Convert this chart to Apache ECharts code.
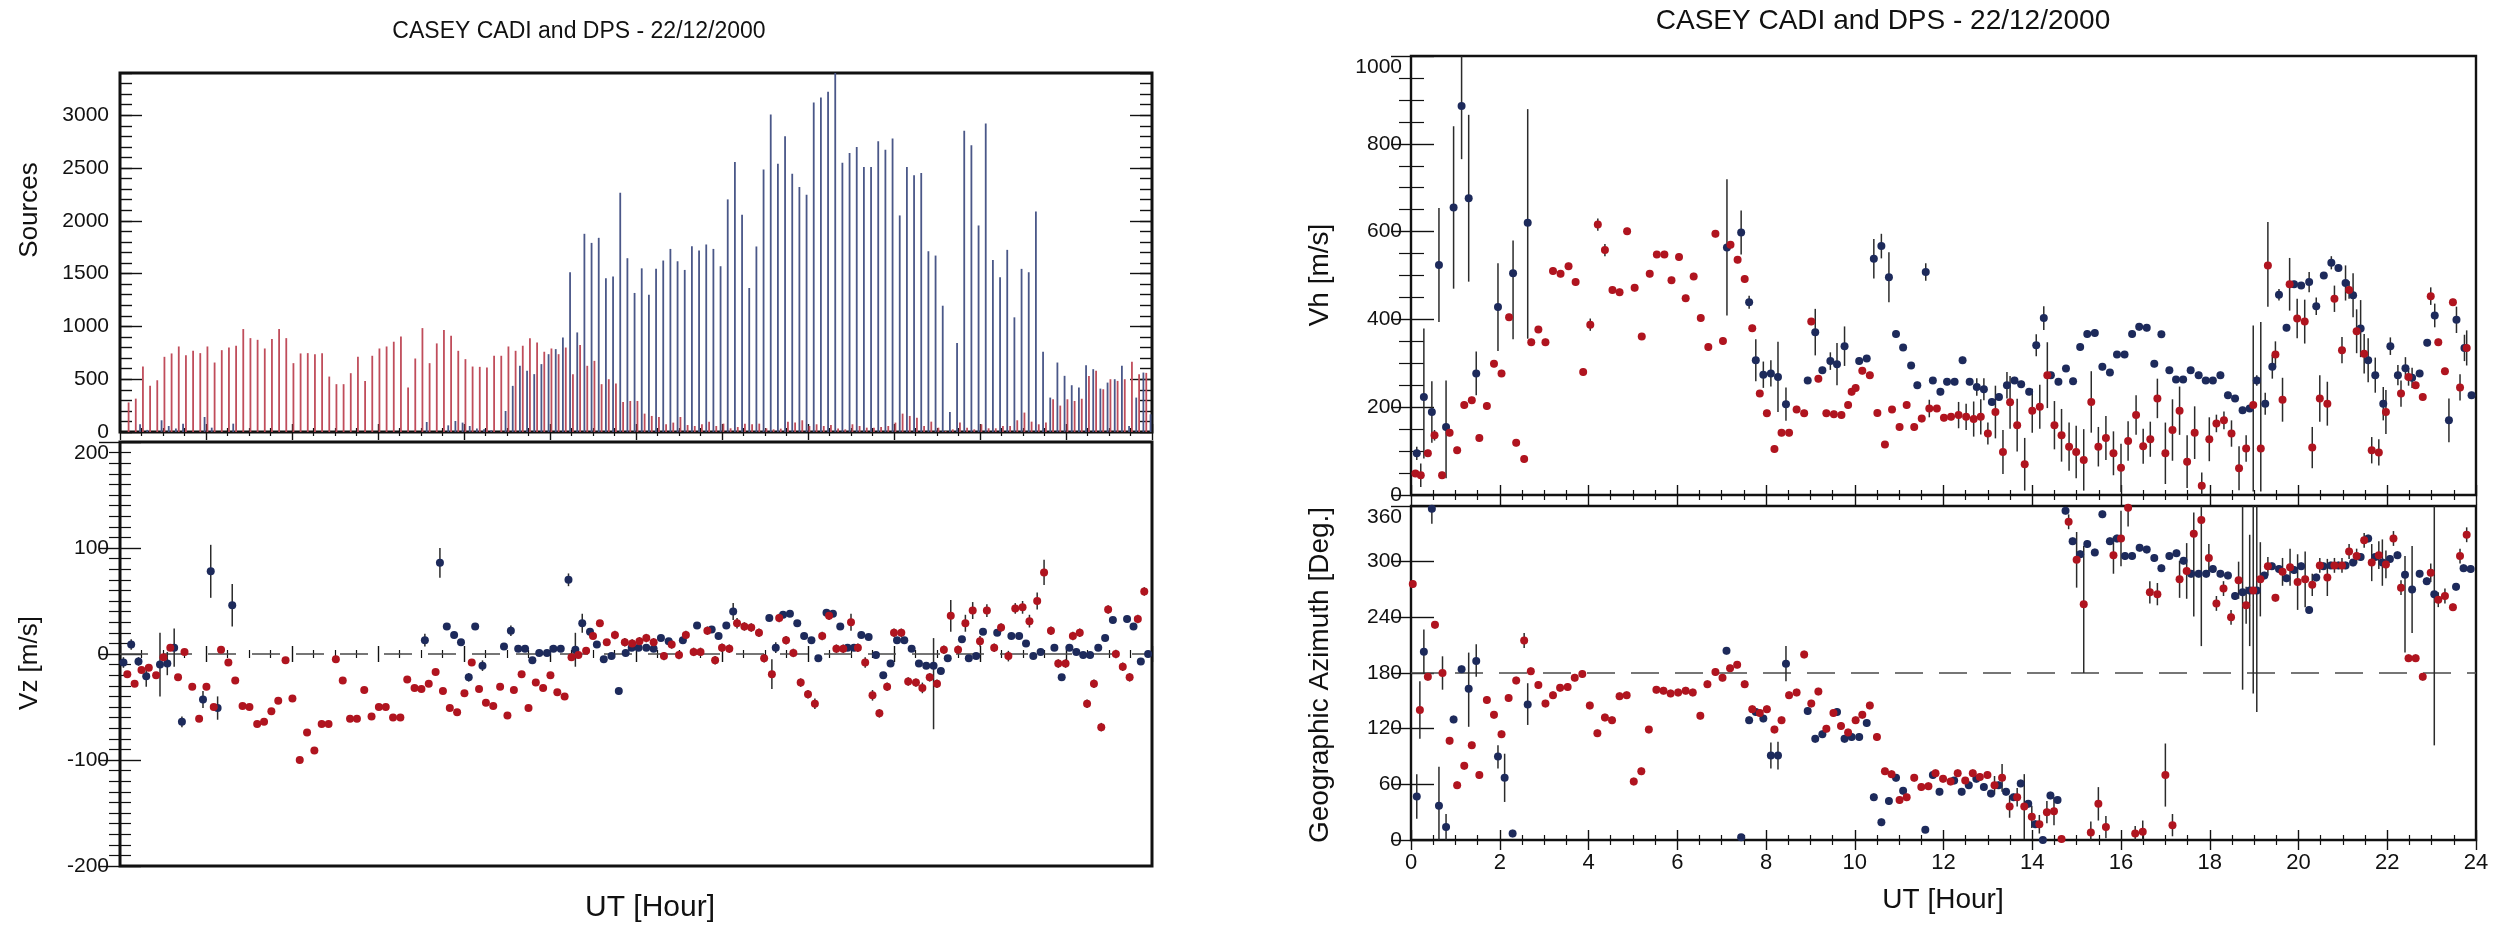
<!DOCTYPE html>
<html><head><meta charset="utf-8">
<script src="https://cdn.jsdelivr.net/npm/echarts/dist/echarts.min.js"></script>
<style>html,body{margin:0;padding:0;background:#fff}#c{width:2494px;height:929px}</style>
</head><body><div id="c"></div>
<script>
// ---------- DATA ----------
const titleText = 'CASEY CADI and DPS - 22/12/2000';
const srcStepHours = 1 / 6;      // 10-minute soundings
const cadiSrcStart = 0.2;        // UT hour of first CADI bar
const dpsSrcStart = 0.3;         // UT hour of first DPS bar

const cadiSources = [
 280,316,620,437,490,712,744,810,728,769, 747,810,658,775,800,817,975,889,873,791,
 880,975,889,652,744,747,737,747,525,453, 453,557,712,484,722,791,810,855,905,421,
 696,984,652,839,965,911,769,690,620,617, 611,722,722,810,769,817,889,848,760,791,
 737,800,548,823,627,674,453,500,459,285, 294,294,174,152,142,73,89,142,66,57,
 73,98,57,79,35,47,79,73,79,35, 25,32,98,89,111,57,73,57,66,32,
 25,73,57,41,41,47,57,89,174,152, 136,57,98,41,10,25,89,41,25,73,
 35,35,57,57,111,184,98,73,89,310, 250,310,294,315,530,579,405,500,484,500,
 665,548,560];
const dpsSources = [
 0,73,20,0,111,57,32,79,0,0, 142,41,0,0,79,0,0,0,0,0,
 0,0,0,0,0,0,0,0,0,0, 0,0,0,0,0,0,0,0,0,0,
 0,95,0,0,63,104,89,57,32,25, 16,0,199,437,627,579,548,643,737,785,
 896,1512,943,1877,1791,1839,1455,1472,2266,1646, 1317,1550,1301,1545,1624,1734,1617,1535,1760,1718,
 1776,1734,1570,2203,2557,2057,1364,1757,2485,3007, 2541,2801,2447,2320,2247,3121,3168,3222,3400,2551,
 2643,2700,2510,2510,2754,2674,2779,2051,2510,2431, 2453,1712,1671,1196,190,842,2852,2716,1956,2921,
 1630,1465,1725,1086,1545,1513,2089,760,326,658, 532,443,421,633,595,411,468,500,627,57,
 326,563,168];

// [UT hour, value, error] or [UT hour, value, errLow, errHigh]
const vzDps = [
 [0.08,-8,5],[0.26,9,5],[0.43,-7,4],[0.61,-21,10],[0.93,-10,30],[1.1,-9,11],[1.26,6,18],[1.44,-64,5],
 [1.93,-43,8],[2.11,78,25],[2.27,-51,11],[2.61,46,20],[7.09,13,6],[7.44,86,14],[7.6,26,3],[7.77,18,3],
 [7.93,11,3],[8.11,-22,4],[8.26,26,3],[8.43,-11,5],[8.93,7,3],[9.09,22,5],[9.26,5,3],[9.42,5,3],
 [9.59,-6,3],[9.75,1,3],[9.93,1,3],[10.08,5,3],[10.25,5,3],[10.43,70,6],[10.59,4,16],[10.75,29,9],
 [10.93,21,3],[11.09,9,3],[11.25,-5,3],[11.43,-2,3],[11.6,-35,3],[11.76,1,3],[11.9,6,3],[12.06,6,3],
 [12.24,6,3],[12.41,5,3],[12.58,15,3],[12.76,12,3],[13.09,13,3],[13.42,27,3],[13.76,23,3],[13.92,17,3],
 [14.1,27,3],[14.26,40,8],[15.1,34,3],[15.25,6,5],[15.42,37,3],[15.58,38,3],[15.75,29,3],[15.91,17,3],
 [16.08,13,3],[16.24,-4,3],[16.43,39,3],[16.58,38,3],[16.75,26,3],[16.92,6,3],[17.07,6,3],[17.24,18,3],
 [17.41,16,3],[17.58,-1,3],[17.75,-20,3],[17.92,-9,3],[18.07,13,3],[18.24,13,3],[18.41,5,3],[18.58,-9,3],
 [18.75,-11,3],[18.92,-11,60,26],[19.09,-16,3],[19.25,-4,3],[19.58,14,3],[19.74,-4,3],[19.91,-2,3],[20.07,21,3],
 [20.4,20,3],[20.73,17,3],[20.91,17,3],[21.07,10,3],[21.24,-2,3],[21.41,2,3],[21.73,6,3],[21.9,-22,3],
 [22.08,6,3],[22.24,2,3],[22.4,-1,3],[22.56,-1,3],[22.75,6,3],[22.91,15,3],[23.09,32,3],[23.42,33,3],
 [23.57,26,3],[23.74,-7,3],[23.91,0,3]];
const vzCadi = [
 [0.17,-19,0],[0.34,-28,0],[0.5,-15,0],[0.67,-13,0],[0.84,-20,0],[1.01,-3,0],[1.17,6,0],[1.35,-22,0],
 [1.5,2,0],[1.68,-31,0],[1.84,-61,0],[2.01,-31,0],[2.18,-50,0],[2.35,4,0],[2.52,-8,0],[2.68,-25,0],
 [2.85,-49,0],[3.01,-50,0],[3.19,-66,0],[3.35,-64,0],[3.52,-54,0],[3.68,-44,0],[3.85,-6,0],[4.01,-42,0],
 [4.18,-100,0],[4.35,-74,0],[4.52,-91,0],[4.69,-66,0],[4.85,-66,0],[5.02,-5,0],[5.18,-25,0],[5.35,-61,0],
 [5.51,-61,0],[5.68,-34,0],[5.85,-59,0],[6.02,-50,0],[6.18,-50,0],[6.35,-60,0],[6.52,-60,0],[6.68,-24,0],
 [6.85,-32,0],[7.01,-33,0],[7.18,-28,0],[7.34,-17,0],[7.51,-35,0],[7.67,-51,0],[7.84,-55,0],[8.01,-37,0],
 [8.18,-8,0],[8.35,-33,0],[8.51,-46,0],[8.68,-49,0],[8.84,-31,0],[9.01,-58,0],[9.16,-34,0],[9.34,-19,0],
 [9.5,-51,0],[9.67,-27,0],[9.84,-32,0],[10.01,-20,0],[10.17,-36,0],[10.34,-40,0],[10.5,-3,0],[10.66,-1,0],
 [10.84,3,0],[11.0,17,0],[11.16,29,0],[11.32,11,0],[11.51,18,4],[11.74,11,4],[11.91,10,4],[12.08,12,4],
 [12.24,15,4],[12.41,11,4],[12.65,-2,4],[12.83,9,4],[13.0,-1,4],[13.16,18,4],[13.34,2,4],[13.5,2,4],
 [13.66,22,4],[13.84,-6,4],[14.0,6,4],[14.17,5,4],[14.35,29,5],[14.52,26,4],[14.68,25,4],[14.86,20,4],
 [14.98,-4,4],[15.16,-19,14],[15.33,34,4],[15.49,13,4],[15.66,1,4],[15.83,-27,4],[16.0,-38,4],[16.16,-47,5],
 [16.33,17,4],[16.49,36,4],[16.66,5,4],[16.82,5,4],[17.0,30,8],[17.16,6,4],[17.33,-8,5],[17.5,-39,5],
 [17.66,-56,4],[17.84,-31,4],[18.0,20,4],[18.17,20,4],[18.33,-26,4],[18.51,-27,4],[18.66,-32,5],[18.83,-22,4],
 [19.0,-28,4],[19.16,4,4],[19.32,36,15],[19.49,4,4],[19.66,29,8],[19.83,41,8],[20.0,12,5],[20.16,41,6],
 [20.33,6,4],[20.49,25,4],[20.66,-2,5],[20.82,43,5],[20.99,44,6],[21.15,31,6],[21.33,50,8],[21.49,77,12],
 [21.65,22,4],[21.82,-9,4],[21.99,-9,4],[22.16,17,4],[22.32,20,4],[22.49,-47,4],[22.65,-28,4],[22.82,-69,4],
 [22.98,42,4],[23.16,0,4],[23.32,-12,4],[23.48,-22,4],[23.67,33,4],[23.82,59,4]];

const vhDps = [
 [0.13,95,15],[0.29,223,140,156],[0.47,189,70],[0.63,524,130],[0.79,155,117,106],[0.96,655,185],[1.14,886,121,114],[1.30,676,190],
 [1.47,277,50],[1.96,428,100],[2.30,505,150,75],[2.63,620,264,259],[7.12,564,155],[7.44,598,50],[7.62,439,15],[7.77,307,48],
 [7.94,274,30],[8.11,277,30],[8.27,269,80],[8.45,207,38],[8.94,261,8],[9.11,371,53],[9.27,284,8],[9.45,305,20],
 [9.60,298,48],[9.77,339,45],[10.1,305,8],[10.27,311,8],[10.43,538,45],[10.6,567,28],[10.77,496,57],[10.93,367,8],
 [11.09,336,8],[11.27,295,8],[11.41,250,8],[11.6,508,20],[11.76,261,8],[11.93,235,8],[12.08,258,8],[12.25,258,8],
 [12.43,307,8],[12.59,258,8],[12.75,246,20],[12.91,241,25],[13.09,212,8],[13.25,223,8],[13.43,250,30],[13.6,261,8],
 [13.75,252,8],[13.93,235,8],[14.09,341,25],[14.26,403,27],[14.42,273,8],[14.59,258,8],[14.76,288,8],[14.92,259,8],
 [15.08,337,8],[15.24,367,8],[15.41,369,8],[15.58,292,8],[15.75,279,8],[15.91,320,8],[16.08,320,8],[16.25,367,8],
 [16.41,383,8],[16.58,381,8],[16.75,299,8],[16.91,366,8],[17.09,284,8],[17.24,263,8],[17.4,263,8],[17.57,284,8],
 [17.75,273,8],[17.91,261,8],[18.07,261,8],[18.24,273,8],[18.41,227,8],[18.57,220,8],[18.74,193,8],[18.9,197,8],
 [19.06,261,12],[19.25,208,25],[19.41,292,27],[19.56,456,13],[19.73,381,8],[19.9,480,8],[20.06,477,8],[20.24,485,23],
 [20.4,430,20],[20.57,500,8],[20.74,529,15],[20.9,517,8],[21.06,483,40],[21.23,455,50],[21.4,379,65],[21.57,307,50],
 [21.73,273,40],[21.91,208,38],[22.07,339,20],[22.24,273,23],[22.41,289,25],[22.56,267,23],[22.73,277,8],[22.9,347,8],
 [23.07,409,27],[23.39,170,50],[23.56,399,30],[23.74,335,30],[23.9,227,8]];
const vhCadi = [
 [0.1,49,8],[0.22,45,27],[0.38,95,8],[0.53,136,12],[0.7,45,8],[0.87,142,8],[1.04,102,8],[1.2,205,8],
 [1.37,216,8],[1.54,130,8],[1.71,203,8],[1.87,299,8],[2.04,277,8],[2.21,405,8],[2.37,119,8],[2.55,82,8],
 [2.71,348,8],[2.87,377,8],[3.03,348,8],[3.2,510,8],[3.37,504,8],[3.55,521,8],[3.71,485,8],[3.88,280,8],
 [4.04,388,14],[4.21,616,14],[4.37,558,14],[4.54,467,8],[4.7,462,8],[4.87,601,8],[5.04,472,8],[5.2,361,8],
 [5.38,504,8],[5.54,548,8],[5.71,548,8],[5.87,489,8],[6.04,542,8],[6.19,448,8],[6.37,498,8],[6.53,403,8],
 [6.7,337,8],[6.86,595,8],[7.03,351,8],[7.2,570,8],[7.36,536,8],[7.52,492,8],[7.69,380,8],[7.86,231,8],
 [8.02,186,8],[8.19,105,8],[8.35,142,8],[8.52,142,8],[8.69,195,8],[8.86,186,8],[9.02,395,8],[9.18,265,8],
 [9.36,186,8],[9.53,184,8],[9.7,182,8],[9.85,205,8],[9.93,235,8],[10.02,244,8],[10.17,283,8],[10.34,273,8],
 [10.51,187,8],[10.68,115,8],[10.84,195,8],[11.01,155,8],[11.17,205,8],[11.34,155,8],[11.51,174,8],[11.68,197,20],
 [11.85,197,8],[12.01,176,8],[12.17,178,8],[12.34,182,30],[12.51,178,30],[12.68,173,40],[12.84,178,40],[13.0,140,25],
 [13.17,189,60],[13.34,98,50],[13.5,211,60],[13.66,159,60],[13.83,70,60],[14.0,192,50],[14.17,201,50],[14.34,273,75],
 [14.5,159,55],[14.66,136,60],[14.83,110,55],[14.99,98,60],[15.16,80,70],[15.33,212,70],[15.49,110,45],[15.66,130,50],
 [15.83,95,50],[16.0,62,55],[16.16,123,45],[16.34,182,45],[16.5,111,40],[16.66,127,40],[16.82,220,45],[17.0,95,70],
 [17.16,148,70],[17.32,192,55],[17.49,76,60],[17.66,142,60],[17.82,21,30],[17.99,127,50],[18.15,163,20],[18.32,170,20],
 [18.49,140,30],[18.66,61,50],[18.82,106,30],[18.98,205,197,181],[19.15,106,98,288],[19.31,523,94,99],[19.48,320,30],[19.64,217,50],
 [19.8,480,60],[19.97,402,45],[20.14,395,50],[20.31,108,47],[20.48,220,53],[20.65,208,50],[20.81,447,30],[20.98,330,30],
 [21.14,467,20],[21.31,373,50],[21.48,322,45],[21.65,102,30],[21.81,97,30],[21.97,189,50],[22.31,231,30],[22.48,269,20],
 [22.64,250,8],[22.8,223,8],[22.98,453,20],[23.15,348,8],[23.3,282,8],[23.48,439,8],[23.64,245,30],[23.79,335,40]];

const azDps = [
 [0.13,47,24],[0.29,203,24],[0.47,357,16,4],[0.63,37,37,42],[0.79,14,14],[0.96,130,4],[1.14,184,4],[1.3,163,41,39],
 [1.47,193,17,18],[1.96,90,13,12],[2.11,67,26],[2.29,7,4],[2.63,146,22,23],[7.11,204,4],[7.44,3,3],[7.62,129,4],
 [7.77,138,4],[7.94,131,4],[8.11,91,14],[8.27,91,15],[8.45,190,19],[8.94,139,4],[9.11,109,4],[9.27,114,4],
 [9.6,138,4],[9.77,109,4],[9.93,111,4],[10.1,111,4],[10.27,126,4],[10.43,46,4],[10.6,19,4],[10.77,42,4],
 [10.93,67,4],[11.09,53,4],[11.59,11,3],[11.76,70,4],[11.91,52,4],[12.24,64,4],[12.41,52,4],[12.57,59,4],
 [12.74,66,4],[12.91,57,4],[13.07,50,4],[13.24,59,4],[13.41,52,4],[13.58,46,4],[13.74,61,4],[13.91,39,4],
 [14.07,17,4],[14.24,0,3],[14.41,48,4],[14.57,43,4],[14.75,355,4],[14.91,322,4],[15.08,308,4],[15.24,319,4],
 [15.41,310,4],[15.58,351,4],[15.75,322,4],[15.91,325,4],[16.09,306,4],[16.25,306,4],[16.42,315,4],[16.58,313,4],
 [16.75,304,4],[16.91,293,4],[17.09,306,4],[17.25,309,4],[17.41,301,4],[17.58,287,4],[17.75,287,4],[17.92,287,4],
 [18.07,292,4],[18.24,287,4],[18.41,285,4],[18.57,263,4],[18.74,267,105,94],[18.9,269,60],[19.06,269,131,92],[19.23,285,4],
 [19.4,295,4],[19.56,292,4],[19.73,282,4],[19.9,291,4],[20.06,295,4],[20.24,248,4],[20.4,283,4],[20.56,295,4],
 [20.73,296,4],[20.9,296,4],[21.06,296,4],[21.23,299,4],[21.4,305,4],[21.57,325,4],[21.73,305,4],[21.89,299,25],
 [22.06,303,4],[22.23,307,4],[22.4,286,84,20],[22.56,270,47],[22.73,287,4],[22.89,279,4],[23.06,265,163,96],[23.55,273,4],
 [23.72,293,4],[23.88,292,4]];
const azCadi = [
 [0.04,276,4],[0.2,140,31],[0.38,176,4],[0.54,232,4],[0.71,180,18],[0.87,107,4],[1.04,59,4],[1.2,80,4],
 [1.37,102,4],[1.54,70,4],[1.71,151,4],[1.87,135,4],[2.04,114,4],[2.2,153,4],[2.37,172,4],[2.55,215,8],
 [2.7,182,4],[2.87,167,4],[3.03,147,4],[3.2,156,4],[3.36,164,4],[3.53,165,4],[3.69,175,4],[3.86,179,4],
 [4.03,145,4],[4.2,115,4],[4.37,132,4],[4.53,129,4],[4.7,155,4],[4.86,156,4],[5.02,63,4],[5.19,74,4],
 [5.36,119,4],[5.53,162,4],[5.69,161,4],[5.85,158,4],[6.02,159,4],[6.19,161,4],[6.35,159,4],[6.52,134,4],
 [6.68,168,4],[6.86,181,4],[7.02,175,4],[7.19,185,4],[7.35,189,4],[7.52,168,4],[7.69,141,4],[7.86,137,4],
 [8.02,141,4],[8.19,119,4],[8.35,129,4],[8.52,156,4],[8.69,159,4],[8.86,200,4],[9.02,147,4],[9.18,160,4],
 [9.36,120,4],[9.52,137,4],[9.69,123,4],[9.85,116,4],[10.02,129,4],[10.17,135,4],[10.34,145,4],[10.5,111,4],
 [10.68,74,4],[10.83,71,4],[11.01,43,4],[11.17,46,4],[11.34,67,4],[11.5,57,4],[11.66,58,4],[11.82,72,4],
 [11.99,66,4],[12.16,63,4],[12.32,72,4],[12.49,64,4],[12.66,72,4],[12.82,68,4],[12.99,70,4],[13.15,59,10],
 [13.32,67,15],[13.49,36,12],[13.66,46,10],[13.82,36,35],[13.99,25,12],[14.16,17,10],[14.33,30,12],[14.49,31,15],
 [14.66,1,4],[14.82,343,8],[15.0,302,30],[15.16,254,74,63],[15.32,8,12],[15.49,39,18],[15.66,14,12],[15.83,307,20],
 [16.0,325,30],[16.16,358,20],[16.32,7,8],[16.49,9,12],[16.65,267,12],[16.82,265,12],[17.0,70,34],[17.16,16,12],
 [17.32,281,20],[17.48,290,30],[17.64,330,89,23],[17.81,345,136,16],[17.98,304,15],[18.15,255,8],[18.31,271,8],[18.48,240,8],
 [18.65,280,20],[18.82,253,20],[18.98,269,111,92],[19.14,281,40],[19.31,295,10],[19.48,261,4],[19.64,289,15],[19.81,294,20],
 [19.98,278,30],[20.15,281,30],[20.31,275,12],[20.48,296,8],[20.65,283,20],[20.81,296,8],[20.98,296,8],[21.14,311,8],
 [21.31,306,8],[21.48,323,8],[21.65,299,20],[21.81,307,15],[21.97,297,15],[22.14,325,8],[22.31,272,8],[22.48,196,4],
 [22.64,196,4],[22.8,176,4],[22.98,288,10],[23.15,259,8],[23.3,263,8],[23.48,251,4],[23.64,306,8],[23.79,329,8]];

// ---------- STYLE ----------
const FONT = "'Liberation Sans', Arial, sans-serif";
const INK = '#111';
const BLUE = '#1d2a5b', RED = '#b0141f';
const BAR_RED = '#c04d5b', BAR_BLUE = '#4a5788';
const ERR = '#2b2b2b';

const chart = echarts.init(document.getElementById('c'), null, {renderer: 'canvas'});

const grid = [
  {left: 120, top: 73, width: 1032, height: 359, bw: 3},
  {left: 120, top: 442, width: 1032, height: 424, bw: 3},
  {left: 1411, top: 56, width: 1065, height: 439, bw: 2.4},
  {left: 1411, top: 506, width: 1065, height: 334, bw: 2.4}
].map(g => ({left: g.left, top: g.top, width: g.width, height: g.height, show: true,
  borderColor: INK, borderWidth: g.bw, backgroundColor: 'transparent'}));

function xAx(gi, pos, labels) {
  const small = gi < 2;
  return {gridIndex: gi, type: 'value', min: 0, max: 24, interval: 2, position: pos,
    axisLine: {show: false}, splitLine: {show: false},
    axisTick: {show: true, inside: true, length: small ? 8 : 10, lineStyle: {color: INK, width: 1.4}},
    minorTick: {show: true, splitNumber: 4, length: small ? 4 : 5, lineStyle: {color: INK, width: 1.2}},
    axisLabel: {show: labels, margin: 12, fontSize: 22, color: INK, fontFamily: FONT}};
}
function yAx(gi, pos, o) {
  return {gridIndex: gi, type: 'value', position: pos, min: o.min, max: o.max, interval: o.interval,
    axisLine: {show: false}, splitLine: {show: false},
    axisTick: {show: true, inside: true, length: o.tick, lineStyle: {color: INK, width: 1.4}},
    minorTick: {show: !!o.minor, splitNumber: o.minor || 1, length: o.minorLen || 0, lineStyle: {color: INK, width: 1.2}},
    axisLabel: {show: !!o.labels, margin: o.margin || 10, fontSize: o.fontSize || 21, color: INK, fontFamily: FONT,
      showMaxLabel: o.showMax !== false, formatter: o.formatter || (v => String(v)), rich: o.rich}};
}
const shiftRich = size => ({t: {padding: [22, 0, 0, 0], fontSize: size, fontFamily: FONT, color: INK}});

const xAxis = [
  xAx(0, 'bottom', false), xAx(0, 'top', false),
  xAx(1, 'bottom', false), xAx(1, 'top', false),
  xAx(2, 'bottom', false), xAx(2, 'top', false),
  xAx(3, 'bottom', true), xAx(3, 'top', false)
];
const yAxis = [
  // 0-3: Sources
  yAx(0, 'left', {min: 0, max: 3400, interval: 500, tick: 22, labels: true, fontSize: 21, margin: 11, showMax: false}),
  yAx(0, 'left', {min: 0, max: 3400, interval: 100, tick: 12}),
  yAx(0, 'right', {min: 0, max: 3400, interval: 500, tick: 22}),
  yAx(0, 'right', {min: 0, max: 3400, interval: 100, tick: 12}),
  // 4-5: Vz
  yAx(1, 'left', {min: -200, max: 200, interval: 100, tick: 21, minor: 10, minorLen: 11, labels: true, fontSize: 21, margin: 11,
    formatter: v => v === 200 ? '{t|200}' : String(v), rich: shiftRich(21)}),
  yAx(1, 'right', {min: -200, max: 200, interval: 100, tick: 21, minor: 10, minorLen: 11}),
  // 6-7: Vh
  yAx(2, 'left', {min: 0, max: 1000, interval: 200, tick: 23, minor: 4, minorLen: 13, labels: true, fontSize: 21, margin: 9,
    formatter: v => v === 1000 ? '{t|1000}' : String(v), rich: shiftRich(21)}),
  yAx(2, 'right', {min: 0, max: 1000, interval: 200, tick: 20, minor: 4, minorLen: 12}),
  // 8-9: Azimuth
  yAx(3, 'left', {min: 0, max: 360, interval: 60, tick: 23, labels: true, fontSize: 21, margin: 9,
    formatter: v => v === 360 ? '{t|360}' : String(v), rich: shiftRich(21)}),
  yAx(3, 'right', {min: 0, max: 360, interval: 60, tick: 20})
];

function barSeries(values, start, color) {
  return {type: 'custom', xAxisIndex: 0, yAxisIndex: 0, clip: true, silent: true,
    data: values.map((v, k) => [start + k * srcStepHours, v]),
    renderItem: (params, api) => {
      const p0 = api.coord([api.value(0), 0]);
      const p1 = api.coord([api.value(0), api.value(1)]);
      return {type: 'line', shape: {x1: p0[0], y1: p0[1], x2: p1[0], y2: p1[1]},
        style: {stroke: color, lineWidth: 1.8}};
    }};
}
const withErr = arr => arr.map(d => d.length === 4 ? d : [d[0], d[1], d[2], d[2]]);
function errSeries(arr, xi, yi) {
  return {type: 'custom', xAxisIndex: xi, yAxisIndex: yi, clip: true, silent: true, z: 3,
    data: withErr(arr),
    renderItem: (params, api) => {
      const lo = api.value(2), hi = api.value(3);
      if (!(lo > 0 || hi > 0)) return null;
      const a = api.coord([api.value(0), api.value(1) - lo]);
      const b = api.coord([api.value(0), api.value(1) + hi]);
      return {type: 'line', shape: {x1: a[0], y1: a[1], x2: b[0], y2: b[1]},
        style: {stroke: ERR, lineWidth: 1.5}};
    }};
}
function dotSeries(arr, xi, yi, color, dashY) {
  const s = {type: 'scatter', xAxisIndex: xi, yAxisIndex: yi, symbol: 'circle', symbolSize: 8, z: 4,
    clip: true, silent: true, itemStyle: {color: color, opacity: 1},
    data: arr.map(d => [d[0], d[1]])};
  if (dashY !== undefined) {
    s.markLine = {silent: true, symbol: 'none', label: {show: false}, animation: false, z: 2,
      lineStyle: {type: [28, 16], color: '#4a4a4a', width: 1.6}, data: [{yAxis: dashY}]};
  }
  return s;
}

const series = [
  barSeries(cadiSources, cadiSrcStart, BAR_RED),
  barSeries(dpsSources, dpsSrcStart, BAR_BLUE),
  errSeries(vzDps, 2, 4), errSeries(vzCadi, 2, 4),
  dotSeries(vzDps, 2, 4, BLUE, 0), dotSeries(vzCadi, 2, 4, RED),
  errSeries(vhDps, 4, 6), errSeries(vhCadi, 4, 6),
  dotSeries(vhDps, 4, 6, BLUE), dotSeries(vhCadi, 4, 6, RED),
  errSeries(azDps, 6, 8), errSeries(azCadi, 6, 8),
  dotSeries(azDps, 6, 8, BLUE, 180), dotSeries(azCadi, 6, 8, RED)
];

function label(text, x, y, size, rot) {
  return {type: 'text', x: x, y: y, rotation: rot || 0, silent: true,
    style: {text: text, font: `${size}px ${FONT}`, fill: INK, align: 'center', verticalAlign: 'middle',
      textAlign: 'center', textVerticalAlign: 'middle'}};
}
const graphic = [
  label(titleText, 579, 32, 23),
  label(titleText, 1883, 21, 28),
  label('Sources', 30, 210, 26, Math.PI / 2),
  label('Vz [m/s]', 30, 663, 26, Math.PI / 2),
  label('UT [Hour]', 650, 908, 30),
  label('Vh [m/s]', 1320, 275, 28, Math.PI / 2),
  label('Geographic Azimuth [Deg.]', 1320, 675, 28, Math.PI / 2),
  label('UT [Hour]', 1943, 900, 28)
];

chart.setOption({animation: false, backgroundColor: '#fff', grid, xAxis, yAxis, series, graphic});
</script>
</body></html>
